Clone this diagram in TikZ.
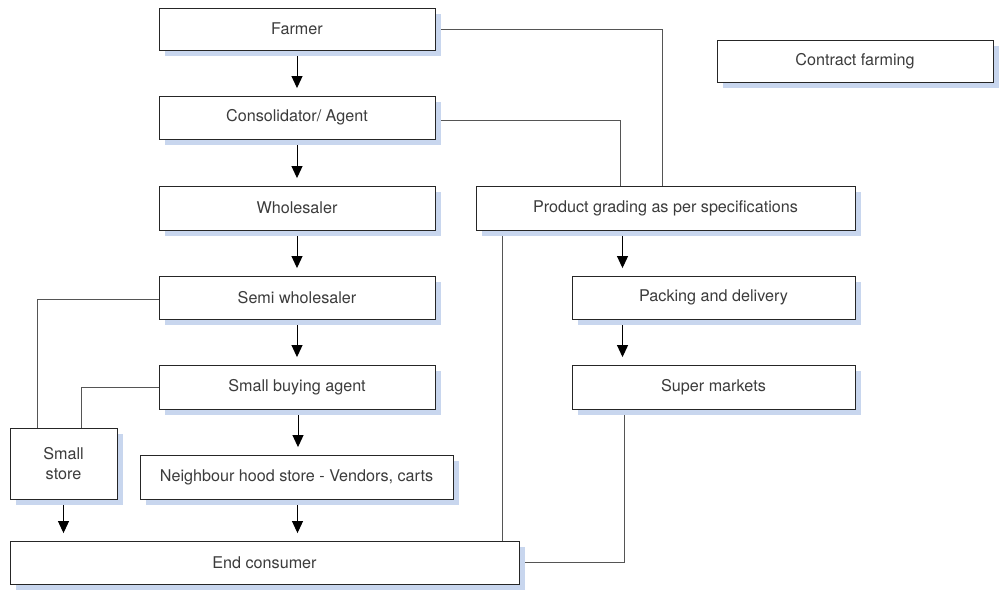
\documentclass[tikz,border=0pt]{standalone}
\usepackage{fontspec}
\setmainfont{TeX Gyre Heros}
\usepackage{tikz}
\usetikzlibrary{arrows.meta,shadows,backgrounds}
\definecolor{shadowblue}{HTML}{C8D6EE}
\definecolor{textgray}{HTML}{3C3C3C}
\definecolor{linegray}{HTML}{555555}
\tikzset{
  stage/.style={draw=black!85, line width=0.5pt, fill=white, text=textgray,
    font=\fontsize{9.2}{11}\selectfont, inner sep=0pt, align=center,
    drop shadow={shadow xshift=0.12cm, shadow yshift=-0.12cm, fill=shadowblue, opacity=1}},
  link/.style={draw=linegray, line width=0.55pt},
  flow/.style={link, -{Triangle[length=0.24cm,width=0.22cm]}, black,
    shorten <=0.12cm, shorten >=0.15cm}
}

\begin{document}
\begin{tikzpicture}[x=0.02cm,y=-0.02cm]
\useasboundingbox (0,0) rectangle (1000,589);

% left column
\node[stage, minimum width=5.52cm, minimum height=0.84cm] (farmer) at (297,29) {Farmer};
\node[stage, minimum width=5.52cm, minimum height=0.86cm] (agent) at (297,117.5) {Consolidator/ Agent};
\node[stage, minimum width=5.52cm, minimum height=0.88cm] (wholesaler) at (297,208) {Wholesaler};
\node[stage, minimum width=5.52cm, minimum height=0.86cm] (semi) at (297,297.5) {Semi wholesaler};
\node[stage, minimum width=5.52cm, minimum height=0.88cm] (buying) at (297,387) {Small buying agent};
\node[stage, minimum width=2.14cm, minimum height=1.42cm] (store) at (63.5,463.5) {Small\\store};
\node[stage, minimum width=6.26cm, minimum height=0.88cm] (hood) at (296.5,477) {Neighbour hood store - Vendors, carts};
\node[stage, minimum width=10.18cm, minimum height=0.86cm] (consumer) at (264.5,562.5) {End consumer};

% right column
\node[stage, minimum width=5.52cm, minimum height=0.84cm] (contract) at (855,61) {Contract farming};
\node[stage, minimum width=7.58cm, minimum height=0.88cm] (grading) at (665.5,208) {Product grading as per specifications};
\node[stage, minimum width=5.66cm, minimum height=0.86cm] (packing) at (713.5,297.5) {Packing and delivery};
\node[stage, minimum width=5.66cm, minimum height=0.88cm] (market) at (713.5,387) {Super markets};

\begin{scope}[on background layer]
\draw[flow] (farmer) -- (agent);
\draw[flow] (agent) -- (wholesaler);
\draw[flow] (wholesaler) -- (semi);
\draw[flow] (semi) -- (buying);
\draw[flow] ([xshift=0.02cm]buying.south) -- ([xshift=0.02cm]buying.south |- hood.north);
\draw[flow] ([xshift=0.02cm]hood.south) -- ([xshift=0.02cm]hood.south |- consumer.north);
\draw[flow] (store.south) -- (store.south |- consumer.north);
\draw[flow] ([xshift=-0.86cm]grading.south) -- ([xshift=-0.86cm]grading.south |- packing.north);
\draw[flow] ([xshift=-1.82cm]packing.south) -- ([xshift=-1.82cm]packing.south |- market.north);

\draw[link] (farmer.east) -| ([xshift=3.74cm]grading.north west);
\draw[link] ([yshift=-0.06cm]agent.east) -| ([xshift=2.9cm]grading.north west);
\draw[link] ([yshift=-0.04cm]semi.west) -| ([xshift=0.56cm]store.north west);
\draw[link] (buying.west) -| ([xshift=1.44cm]store.north west);
\draw[link] ([xshift=0.54cm]grading.south west) -- ([xshift=0.54cm]grading.south west |- consumer.north);
\draw[link] ([xshift=1.06cm]market.south west) |- (consumer.east);
\end{scope}
\end{tikzpicture}
\end{document}
